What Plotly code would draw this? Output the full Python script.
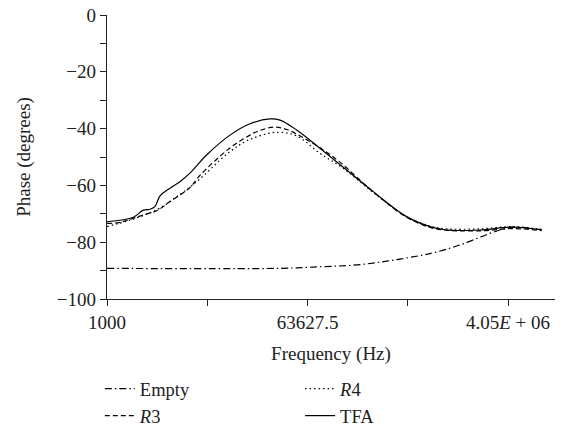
import plotly.graph_objects as go

# Frequency (Hz) and phase (degrees)
tfa_freq = [1000, 1726, 2123, 2438, 2692, 3000, 3690, 4530, 5570, 7870, 12770, 19320,
            29240, 35960, 50820, 82300, 143200, 248500, 495500, 803500, 1135000,
            2260000, 4510000, 8110000]
tfa_phase = [-72.8, -71.2, -68.7, -68.4, -67.5, -63.7, -61.0, -58.7, -55.7, -49.3, -42.3, -38.3,
             -36.6, -37.0, -40.5, -46.9, -54.6, -62.2, -71.0, -74.5, -75.7,
             -75.7, -74.7, -75.7]

r3_freq = [1000, 1310, 2120, 2800, 3690, 5570, 6850, 12770, 19320, 22200, 31350, 41300,
           58200, 88100, 124500, 248500, 495500, 803500, 1135000, 2260000, 4510000, 8110000]
r3_phase = [-73.4, -73.0, -70.4, -68.9, -65.7, -60.8, -56.5, -46.8, -42.3, -41.1, -39.5, -40.3,
            -43.2, -47.5, -51.8, -62.3, -71.2, -74.8, -75.8, -76.0, -75.2, -75.9]

r4_freq = [1000, 1610, 2800, 4240, 6410, 12770, 19320, 33600, 50820, 82300, 133400,
           248500, 495500, 803500, 1135000, 2260000, 4510000, 8110000]
r4_phase = [-74.5, -72.2, -68.6, -64.0, -58.7, -48.1, -43.8, -41.3, -42.6, -48.7, -54.0,
            -62.5, -71.0, -74.3, -75.3, -75.3, -74.5, -75.5]

empty_freq = [1000, 35960, 88100, 176200, 351000, 698000, 890000, 1493000, 2780000,
              3640000, 4510000, 8110000]
empty_phase = [-89.2, -89.2, -88.6, -88.0, -86.5, -84.5, -83.6, -81.0, -76.9,
               -75.4, -74.7, -75.6]

x_tickvals = [1000, 7976.6, 63627.5, 507535, 4.05e6]
x_ticktext = ["1000", "", "63627.5", "", "4.05<i>E</i> + 06"]
y_tickvals = list(range(-100, 1, 10))
y_ticktext = [("\u2212" + str(-v) if v < 0 else str(v)) if v % 20 == 0 else "" for v in y_tickvals]

FONT = "Liberation Serif"
TXT = dict(family=FONT, size=19, color="#222")
LEG = dict(family=FONT, size=18.5, color="#222")

fig = go.Figure()
fig.add_trace(go.Scatter(x=empty_freq, y=empty_phase, mode="lines", name="Empty",
                         line=dict(color="black", width=1.2, dash="7px,3px,1.5px,3px"),
                         line_shape="spline", legend="legend"))
fig.add_trace(go.Scatter(x=r3_freq, y=r3_phase, mode="lines", name="<i>R</i>3",
                         line=dict(color="black", width=1.2, dash="5px,3px"),
                         line_shape="spline", legend="legend"))
fig.add_trace(go.Scatter(x=r4_freq, y=r4_phase, mode="lines", name="<i>R</i>4",
                         line=dict(color="black", width=1.2, dash="1.5px,3px"),
                         line_shape="spline", legend="legend2"))
fig.add_trace(go.Scatter(x=tfa_freq, y=tfa_phase, mode="lines", name="TFA",
                         line=dict(color="black", width=1.2),
                         line_shape="spline", legend="legend2"))

# legends sit with their bottom at the figure edge so nothing gets clipped
legend_style = dict(orientation="v", yanchor="bottom", xanchor="left", y=-0.479,
                    font=LEG, bgcolor="rgba(0,0,0,0)", tracegroupgap=0, itemwidth=30)

fig.update_layout(
    width=569, height=435,
    margin=dict(l=107, r=14, t=15, b=136, autoexpand=False),
    paper_bgcolor="white", plot_bgcolor="white",
    font=TXT,
    showlegend=True,
    legend=dict(legend_style, x=-0.016),
    legend2=dict(legend_style, x=0.431),
    xaxis=dict(type="log", range=[3, 7.03], tickvals=x_tickvals, ticktext=x_ticktext,
               tickfont=TXT, automargin=False, tickangle=0,
               ticks="outside", ticklen=6, tickwidth=1.3, tickcolor="#222",
               showline=True, linecolor="#222", linewidth=1.3, showgrid=False, zeroline=False,
               title=dict(text="Frequency (Hz)", font=TXT, standoff=14)),
    yaxis=dict(range=[-100, 0], tickvals=y_tickvals, ticktext=y_ticktext,
               tickfont=TXT, automargin=False,
               ticks="outside", ticklen=6, tickwidth=1.3, tickcolor="#222",
               showline=True, linecolor="#222", linewidth=1.3, showgrid=False, zeroline=False,
               title=dict(text="Phase (degrees)", font=TXT, standoff=21)),
)

# drop the browser's default body margin so the figure sits at the page corner
fig.write_html("out.html", config={"displayModeBar": False},
               post_script="document.body.style.margin='0';")
